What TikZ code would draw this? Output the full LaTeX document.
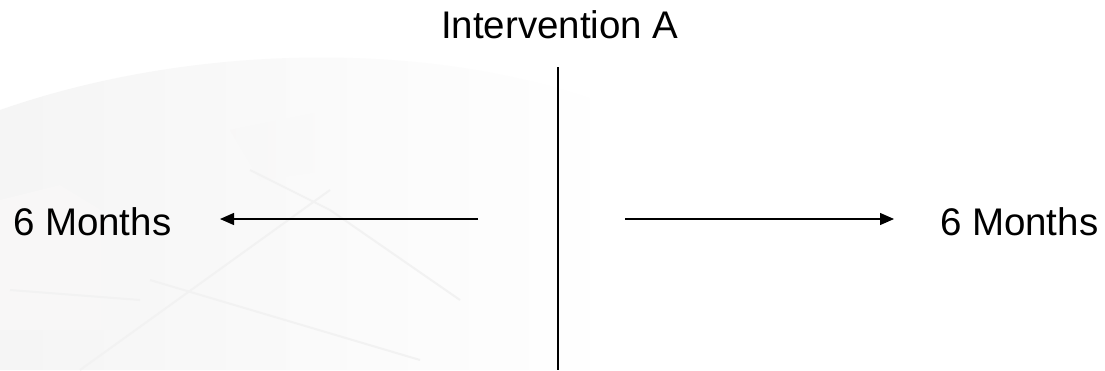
\documentclass[tikz,border=0pt]{standalone}
\usepackage{fontspec}
\setmainfont{Liberation Sans}
\usetikzlibrary{arrows.meta}
\begin{document}
\begin{tikzpicture}[x=1pt,y=-1pt,
  lbl/.style={inner sep=0pt,outer sep=0pt,font=\fontsize{38.5}{41}\selectfont,text=black},
  conn/.style={line width=1.3pt,draw=black},
  arr/.style={conn,-{Triangle[length=14pt,width=12pt]}},
  faintline/.style={black!5,line width=2pt}]
\useasboundingbox (0,0) rectangle (1105,370);
\fill[white] (0,0) rectangle (1105,370);
% faint background watermark
\shade[left color=black!4,right color=white] (0,370) -- (0,110) .. controls (200,40) and (450,40) .. (620,110) -- (620,370) -- cycle;
\shade[left color=red!6!black!3,right color=black!3] (0,200) -- (60,185) -- (150,240) -- (140,330) -- (0,330) -- cycle;
\shade[left color=red!4!black!3,right color=black!2] (230,130) -- (330,110) -- (330,170) -- (260,180) -- cycle;
\draw[faintline] (80,370) -- (330,190);
\draw[faintline] (150,280) -- (420,360);
\draw[faintline] (250,170) -- (330,210) -- (460,300);
\draw[faintline] (10,290) -- (140,300);
% text
\node[lbl,anchor=base west] (top) at (441,38) {Intervention A};
\node[lbl,anchor=base west] (lm) at (13,235) {6 Months};
\node[lbl,anchor=base west] (rm) at (940,235) {6 Months};
% connectors
\coordinate (vt) at (558,67);
\coordinate (vb) at (558,370);
\draw[conn,line width=1.1pt] (vt) -- (vb);
\coordinate (la) at (478,219);
\coordinate (lb) at (220,219);
\draw[arr] (la) -- (lb);
\coordinate (ra) at (625,219);
\coordinate (rb) at (894,219);
\draw[arr] (ra) -- (rb);
\end{tikzpicture}
\end{document}
